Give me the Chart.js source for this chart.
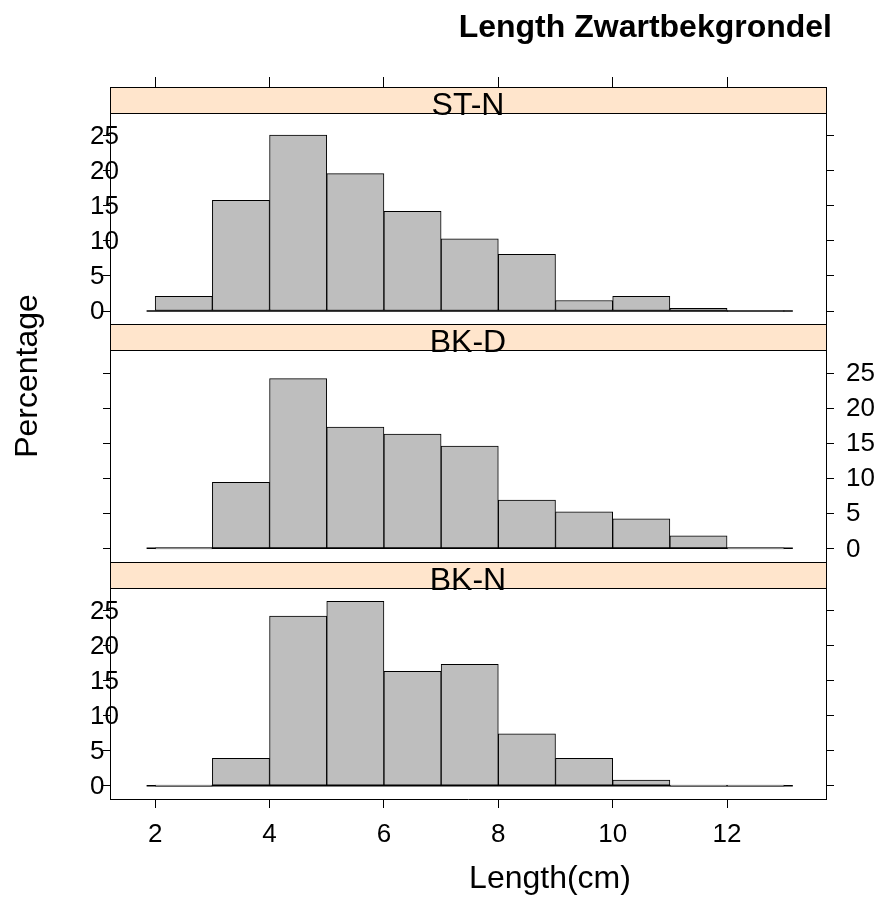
<!DOCTYPE html>
<html>
<head>
<meta charset="utf-8">
<script src="https://cdn.jsdelivr.net/npm/chart.js@4/dist/chart.umd.min.js"></script>
<style>
  html, body { margin: 0; padding: 0; background: #fff; }
  #wrap { position: relative; width: 886px; height: 900px; }
</style>
</head>
<body>
<div id="wrap"><canvas id="chart"></canvas></div>
<script>
// lower edge of each 1 cm length class
const lengthBins = [2, 3, 4, 5, 6, 7, 8, 9, 10, 11, 12];
// percentage per class, one list per site
const stN = [2.1, 15.8, 25.1, 19.6, 14.2, 10.3, 8.1, 1.5, 2.1, 0.4, 0];
const bkD = [0, 9.4, 24.2, 17.3, 16.3, 14.6, 6.9, 5.2, 4.2, 1.8, 0];
const bkN = [0, 3.9, 24.2, 26.3, 16.3, 17.3, 7.4, 3.9, 0.8, 0, 0];
const panelNames = ['ST-N', 'BK-D', 'BK-N'];
const xTicks = [2, 4, 6, 8, 10, 12];
const yTicks = [0, 5, 10, 15, 20, 25];
const baseRange = [1.85, 13.15];

const FONT = "'Liberation Sans', Arial, Helvetica, sans-serif";
const STRIP_H = 26;
const STRIP_BG = '#ffe5cc';
const X_MIN = 1.21, X_MAX = 13.73;
const Y_MIN = -1.9, Y_MAX = 31.95;

Chart.defaults.font.family = FONT;
Chart.defaults.color = '#000';

const series = [stN, bkD, bkN];
const leftIds = ['yTop', 'yMid', 'yBot'];

// panel y axes: left stack and right stack, labels alternate sides
function yAxis(pos, weight, showLabels) {
  const left = pos === 'left';
  return {
    type: 'linear',
    position: pos,
    stack: left ? 'L' : 'R',
    stackWeight: 1,
    weight: weight,
    min: Y_MIN,
    max: Y_MAX,
    afterBuildTicks: s => { s.ticks = yTicks.map(v => ({ value: v })); },
    afterFit: s => { s.width = left ? 20 : 60; },
    grid: { drawOnChartArea: false, drawTicks: true, tickLength: left ? 7 : 8, color: '#000', lineWidth: 1 },
    border: { display: true, color: '#000', width: 1 },
    ticks: {
      autoSkip: false,
      font: { size: 26 },
      color: showLabels ? '#000' : 'rgba(0,0,0,0)',
      // left labels start 20px left of the frame and run over it
      mirror: left,
      padding: left ? -20 : 12,
      labelOffset: 1
    }
  };
}

function xAxis(pos) {
  const bottom = pos === 'bottom';
  return {
    type: 'linear',
    position: pos,
    min: X_MIN,
    max: X_MAX,
    offset: false,
    afterBuildTicks: s => { s.ticks = xTicks.map(v => ({ value: v })); },
    afterFit: s => { s.height = bottom ? 50 : 10; },
    grid: { drawOnChartArea: false, drawTicks: true, tickLength: bottom ? 9 : 10, color: '#000', offset: false },
    border: { display: true, color: '#000', width: 1 },
    ticks: {
      display: bottom,
      autoSkip: false,
      maxRotation: 0,
      font: { size: 26 },
      padding: 11
    }
  };
}

const datasets = [];
series.forEach((vals, i) => {
  datasets.push({
    type: 'bar',
    label: panelNames[i],
    data: lengthBins.map((b, j) => ({ x: b + 0.5, y: vals[j] })),
    xAxisID: 'x',
    yAxisID: leftIds[i],
    backgroundColor: '#bebebe',
    borderColor: '#000',
    borderWidth: 1,
    borderSkipped: false,
    barPercentage: 1,
    categoryPercentage: 1,
    grouped: false,
    minBarLength: 1
  });
});
series.forEach((vals, i) => {
  datasets.push({
    type: 'line',
    label: panelNames[i] + ' base',
    data: baseRange.map(x => ({ x: x, y: 0 })),
    xAxisID: 'x',
    yAxisID: leftIds[i],
    borderColor: '#000',
    borderWidth: 1.5,
    pointRadius: 0
  });
});

// strips on top of each panel plus the page texts
const stripPlugin = {
  id: 'stripPlugin',
  afterDatasetsDraw(chart) {
    const { ctx, chartArea } = chart;
    const w = Math.round(chartArea.right - chartArea.left);
    const x0 = Math.round(chartArea.left) + 0.5;
    leftIds.forEach((id, i) => {
      const s = chart.scales[id];
      const top = Math.round(s.top) + 0.5;
      ctx.save();
      ctx.fillStyle = STRIP_BG;
      ctx.fillRect(x0, top, w, STRIP_H);
      ctx.strokeStyle = '#000';
      ctx.lineWidth = 1;
      ctx.strokeRect(x0, top, w, STRIP_H);
      ctx.fillStyle = '#000';
      ctx.font = '32px ' + FONT;
      ctx.textAlign = 'center';
      ctx.textBaseline = 'alphabetic';
      ctx.fillText(panelNames[i], (chartArea.left + chartArea.right) / 2, top + STRIP_H + 1);
      ctx.restore();
    });
  },
  afterDraw(chart) {
    const ctx = chart.ctx;
    ctx.save();
    ctx.fillStyle = '#000';
    ctx.textBaseline = 'alphabetic';
    ctx.font = 'bold 32px ' + FONT;
    ctx.textAlign = 'right';
    ctx.fillText('Length Zwartbekgrondel', 832, 37);
    ctx.font = '32px ' + FONT;
    ctx.textAlign = 'center';
    ctx.fillText('Length(cm)', 550, 888);
    ctx.translate(37, 376);
    ctx.rotate(-Math.PI / 2);
    ctx.fillText('Percentage', 0, 0);
    ctx.restore();
  }
};

const ctx = document.getElementById('chart').getContext('2d');
new Chart(ctx, {
  type: 'bar',
  data: { datasets: datasets },
  options: {
    responsive: true,
    maintainAspectRatio: false,
    animation: false,
    layout: { padding: { left: 90, right: 0, top: 77, bottom: 51 } },
    plugins: { legend: { display: false }, tooltip: { enabled: false } },
    scales: {
      x: xAxis('bottom'),
      x2: xAxis('top'),
      yTop: yAxis('left', 3, true),
      yMid: yAxis('left', 2, false),
      yBot: yAxis('left', 1, true),
      yTopR: yAxis('right', 1, false),
      yMidR: yAxis('right', 2, true),
      yBotR: yAxis('right', 3, false)
    }
  },
  plugins: [stripPlugin]
});
</script>
</body>
</html>
